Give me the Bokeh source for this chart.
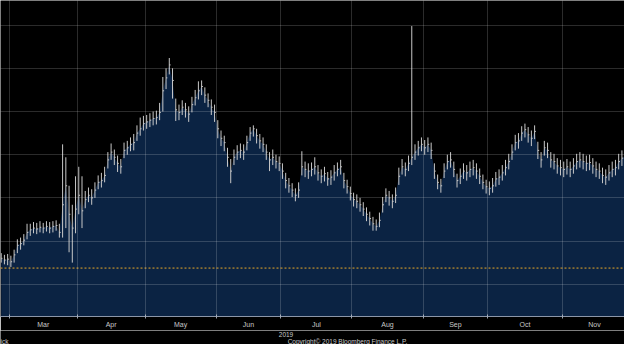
import numpy as np
from bokeh.plotting import figure
from bokeh.layouts import column
from bokeh.models import FixedTicker, Span, Range1d
from bokeh.core.properties import value
from bokeh.embed import file_html
from bokeh.resources import INLINE

# ---- x axis: trading-day index (0 = first session of March 2019) ----
month_names = ["Mar", "Apr", "May", "Jun", "Jul", "Aug", "Sep", "Oct", "Nov"]
month_starts = [0, 21, 42, 64, 84, 106, 128, 148, 171, 191]
first_index = -3
footer_texts = ["ick", "2019", "Copyright\u00a9 2019 Bloomberg Finance L.P."]
footer_x = [-3.21, 85.1, 104.1]
footer_row = [1, 0, 1]          # 0 = upper footer line, 1 = lower footer line
footer_align = ["left", "center", "center"]
ref_level = 21.87  # dotted reference line

# ---- closes by month ----
close_feb = [23.0, 22.8, 22.9]
close_mar = [22.6, 23.4, 24.5, 24.7, 25.1, 26.0, 26.3, 26.5, 26.4, 26.6, 26.5, 26.7, 26.5, 26.7, 26.8, 26.0, 29.2, 31.4, 28.1, 26.5, 28.7]
close_apr = [30.3, 28.5, 29.8, 30.3, 30.0, 30.9, 31.8, 32.0, 32.6, 34.4, 35.3, 34.7, 34.0, 33.6, 35.5, 35.8, 36.2, 36.4, 37.5, 38.0, 38.6]
close_may = [38.8, 39.0, 39.2, 39.3, 39.9, 42.4, 43.9, 45.4, 43.6, 40.2, 39.9, 40.5, 40.2, 39.7, 40.8, 41.6, 42.4, 42.9, 41.9, 41.3, 40.5, 39.9]
close_jun = [38.0, 36.9, 36.4, 34.7, 33.1, 34.7, 35.3, 35.5, 35.3, 36.4, 37.5, 38.0, 37.2, 36.6, 36.2, 35.3, 34.4, 34.7, 34.2, 34.0]
close_jul = [33.1, 32.0, 31.4, 30.9, 30.3, 30.9, 33.6, 33.3, 33.1, 33.3, 33.6, 32.9, 32.5, 32.8, 32.2, 32.4, 32.9, 33.3, 33.6, 32.0, 31.3, 30.5]
close_aug = [29.8, 29.6, 29.2, 28.7, 28.1, 27.6, 27.0, 26.7, 27.4, 29.2, 30.3, 30.0, 29.6, 30.3, 32.5, 33.6, 33.3, 34.0, 34.7, 35.3, 35.8, 36.2]
close_sep = [35.8, 36.2, 35.5, 33.1, 31.8, 31.4, 33.1, 34.2, 34.4, 33.3, 32.0, 32.5, 33.1, 32.9, 33.3, 33.5, 33.1, 32.5, 31.8, 31.3]
close_oct = [31.1, 31.4, 32.2, 32.4, 32.9, 33.5, 34.2, 35.3, 36.4, 36.6, 37.5, 37.9, 37.3, 36.9, 37.7, 35.5, 34.4, 35.8, 35.5, 34.4, 34.2, 33.7, 33.5]
close_nov = [33.3, 33.6, 33.3, 33.7, 34.2, 34.4, 34.2, 34.0, 34.1, 33.7, 33.3, 33.1, 32.6, 32.4, 32.9, 33.3, 33.5, 34.2, 34.6, 34.8]

# ---- highs by month ----
high_feb = [23.6, 23.4, 23.5]
high_mar = [23.3, 24.0, 25.2, 25.4, 25.8, 27.0, 27.0, 27.2, 27.1, 27.3, 27.1, 27.3, 27.2, 27.3, 27.4, 27.0, 36.2, 34.7, 31.4, 29.2, 32.5]
high_apr = [33.6, 32.5, 30.8, 31.2, 31.0, 31.8, 32.6, 32.9, 33.6, 35.3, 36.3, 35.6, 34.9, 34.5, 36.4, 36.6, 37.0, 37.4, 38.4, 39.3, 39.5]
high_may = [39.6, 39.8, 40.0, 40.1, 41.0, 44.0, 45.0, 46.2, 45.0, 41.5, 40.8, 41.3, 41.0, 40.6, 41.7, 42.5, 43.5, 43.6, 42.8, 42.1, 41.4, 40.8]
high_jun = [39.0, 37.8, 37.2, 35.8, 34.5, 35.6, 36.1, 36.3, 36.2, 37.2, 38.2, 38.4, 38.0, 37.4, 37.0, 36.2, 35.3, 35.6, 35.0, 34.8]
high_jul = [34.0, 32.9, 32.3, 31.7, 31.1, 31.8, 35.4, 34.2, 34.0, 34.1, 34.7, 33.8, 33.3, 33.6, 33.0, 33.2, 33.8, 34.1, 34.4, 32.9, 32.1, 31.3]
high_aug = [30.6, 30.4, 30.0, 29.5, 28.9, 28.4, 27.8, 27.5, 28.3, 30.1, 31.1, 30.8, 30.4, 31.2, 33.5, 34.5, 34.1, 34.9, 49.9, 36.2, 36.6, 37.0]
high_sep = [36.7, 37.0, 36.4, 34.0, 32.7, 32.2, 34.0, 35.0, 35.3, 34.2, 32.8, 33.4, 34.0, 33.8, 34.2, 34.4, 34.0, 33.4, 32.7, 32.1]
high_oct = [31.9, 32.3, 33.0, 33.3, 33.8, 34.4, 35.1, 36.2, 37.3, 37.5, 38.3, 38.6, 38.2, 37.8, 38.4, 36.5, 35.3, 36.6, 36.4, 35.3, 35.1, 34.6, 34.4]
high_nov = [34.2, 34.5, 34.2, 34.6, 35.1, 35.3, 35.1, 34.9, 35.0, 34.6, 34.2, 34.0, 33.5, 33.3, 33.8, 34.2, 34.4, 35.1, 35.5, 35.7]

# ---- lows by month ----
low_feb = [22.5, 22.3, 22.2]
low_mar = [22.0, 22.5, 23.6, 24.0, 24.5, 25.2, 25.6, 25.9, 25.8, 26.0, 25.9, 26.1, 25.9, 26.0, 26.2, 25.4, 25.4, 26.5, 23.7, 22.5, 25.9]
low_apr = [28.1, 26.5, 28.8, 29.5, 29.2, 30.0, 31.0, 31.2, 31.8, 33.4, 34.4, 33.8, 33.0, 32.8, 34.6, 35.0, 35.4, 35.5, 36.6, 37.2, 37.8]
low_may = [38.0, 38.2, 38.4, 38.5, 39.0, 40.0, 42.6, 44.3, 41.5, 38.9, 39.0, 39.6, 39.3, 38.8, 39.9, 40.7, 41.4, 41.9, 41.0, 40.5, 39.6, 38.8]
low_jun = [36.9, 36.0, 35.4, 33.6, 31.7, 33.8, 34.4, 34.6, 34.4, 35.5, 36.6, 37.1, 36.3, 35.7, 35.3, 34.4, 33.1, 33.8, 33.4, 33.1]
low_jul = [32.2, 31.1, 30.6, 30.1, 29.6, 30.0, 32.6, 32.4, 32.2, 32.5, 32.7, 32.0, 31.7, 31.9, 31.4, 31.5, 32.0, 32.5, 32.7, 31.1, 30.5, 29.7]
low_aug = [29.0, 28.8, 28.4, 27.9, 27.3, 26.8, 26.2, 26.2, 26.6, 28.3, 29.5, 29.1, 28.8, 29.4, 31.5, 32.7, 32.5, 33.1, 33.8, 34.4, 34.9, 35.4]
low_sep = [35.0, 35.3, 34.5, 32.2, 31.0, 30.6, 32.3, 33.3, 33.5, 32.4, 31.2, 31.6, 32.2, 32.0, 32.4, 32.6, 32.2, 31.6, 31.0, 30.5]
low_oct = [30.3, 30.6, 31.3, 31.5, 32.0, 32.6, 33.3, 34.4, 35.5, 35.7, 36.6, 37.0, 36.4, 36.0, 36.8, 34.5, 33.5, 34.9, 34.6, 33.5, 33.3, 32.8, 32.6]
low_nov = [32.4, 32.7, 32.4, 32.8, 33.3, 33.5, 33.3, 33.1, 33.2, 32.8, 32.4, 32.2, 31.7, 31.5, 32.0, 32.4, 32.6, 33.3, 33.7, 33.9]

closes = np.array(close_feb + close_mar + close_apr + close_may + close_jun + close_jul + close_aug + close_sep + close_oct + close_nov)
highs = np.array(high_feb + high_mar + high_apr + high_may + high_jun + high_jul + high_aug + high_sep + high_oct + high_nov)
lows = np.array(low_feb + low_mar + low_apr + low_may + low_jun + low_jul + low_aug + low_sep + low_oct + low_nov)
idx = np.arange(first_index, first_index + len(closes))

# ---- styles ----
BG = "#000000"
AREA = "#0b2343"
BAR = "#c8c8c8"
TXT = "#c8c8c8"
FONT = "Liberation Sans"

xr = Range1d(-3.21, 189.8)

p = figure(width=624, height=330, output_backend="svg", toolbar_location=None,
           x_range=xr, y_range=Range1d(16.26, 52.86),
           y_axis_location=None,
           min_border_left=0, min_border_right=0, min_border_top=0, min_border_bottom=12,
           background_fill_color=BG, border_fill_color=BG, outline_line_color=None)

# mountain area
p.varea(x=idx, y1=np.full(len(idx), 0.0), y2=closes, fill_color=AREA)

# grid
bounds = [s - 0.5 for s in month_starts]
label_pos = [(month_starts[i] + month_starts[i + 1]) / 2 - 0.5 for i in range(len(month_names))]
p.xgrid.ticker = FixedTicker(ticks=bounds)
p.ygrid.ticker = FixedTicker(ticks=[20, 25, 30, 35, 40, 45, 50])
for g in (p.xgrid, p.ygrid):
    g.grid_line_color = "#ffffff"
    g.grid_line_alpha = 0.17
    g.grid_line_width = 1
    g.level = "overlay"

# dotted reference line
p.add_layout(Span(location=ref_level, dimension="width", line_color="#e8a828",
                  line_dash="2 2", line_width=1))

# price bars
p.segment(x0=idx, y0=lows, x1=idx, y1=highs, line_color=BAR, line_width=1)
p.segment(x0=idx, y0=closes, x1=idx + 0.4, y1=closes, line_color=BAR, line_width=1)

# x axis
ax = p.xaxis[0]
ax.ticker = FixedTicker(ticks=label_pos, minor_ticks=bounds)
ax.major_label_overrides = {lp: m for lp, m in zip(label_pos, month_names)}
ax.major_tick_in = 0
ax.major_tick_out = 0
ax.minor_tick_in = 2
ax.minor_tick_out = 2
ax.minor_tick_line_color = "#9aa3b0"
ax.axis_line_color = "#8c96a8"
ax.major_label_text_color = TXT
ax.major_label_text_font = FONT
ax.major_label_text_font_size = "7px"
ax.major_label_standoff = 2

# footer strip
f = figure(width=624, height=14, output_backend="svg", toolbar_location=None,
           x_range=xr, y_range=Range1d(0, 14),
           x_axis_location=None, y_axis_location=None,
           min_border_left=0, min_border_right=0, min_border_top=0, min_border_bottom=0,
           background_fill_color=BG, border_fill_color=BG, outline_line_color=None)
f.grid.visible = False
row_y = [10.5, 3.5]
f.text(x=footer_x, y=[row_y[r] for r in footer_row], text=footer_texts,
       text_align=footer_align, text_baseline="middle",
       text_color=TXT, text_font=value(FONT), text_font_size="6.5px")

open("out.html", "w").write(file_html(column(p, f, spacing=0), INLINE))
